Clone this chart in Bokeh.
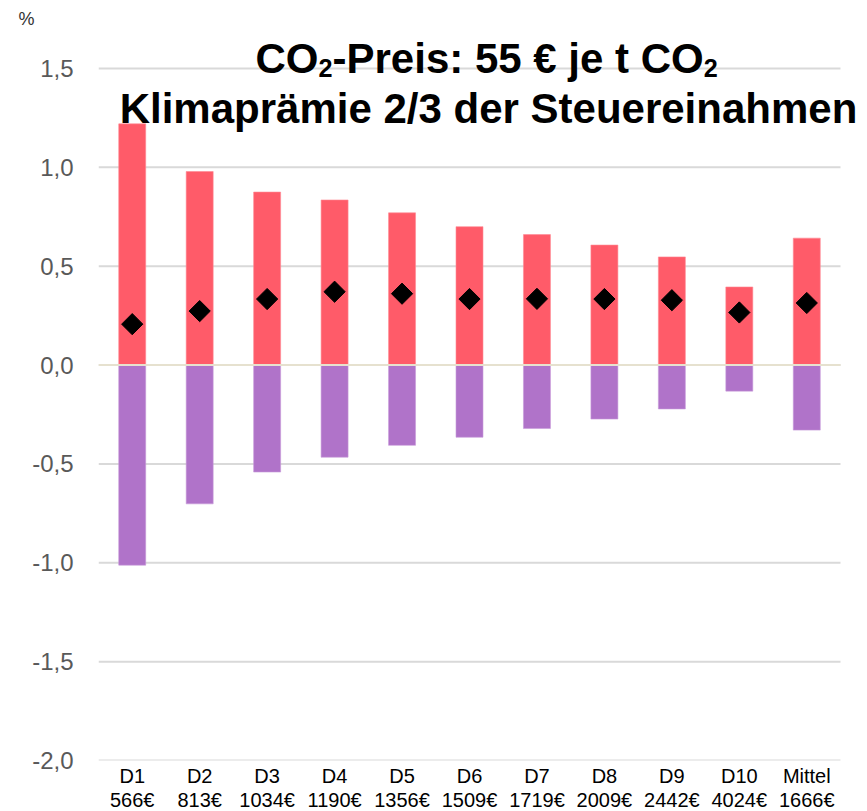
import numpy as np
from bokeh.plotting import figure
from bokeh.models import (ColumnDataSource, FixedTicker, CustomJSTickFormatter,
                          Label, Range1d, Title)
from bokeh.embed import file_html
from bokeh.resources import INLINE

# ---- data ----
deciles = ["D1", "D2", "D3", "D4", "D5", "D6", "D7", "D8", "D9", "D10", "Mittel"]
incomes = ["566€", "813€", "1034€", "1190€", "1356€", "1509€", "1719€",
           "2009€", "2442€", "4024€", "1666€"]
praemie = [1.22, 0.979, 0.875, 0.835, 0.770, 0.700, 0.660, 0.607, 0.547, 0.395, 0.642]
belastung = [-1.012, -0.702, -0.541, -0.466, -0.406, -0.365, -0.321, -0.273, -0.222, -0.132, -0.329]
netto = [0.207, 0.273, 0.334, 0.371, 0.361, 0.334, 0.335, 0.334, 0.328, 0.266, 0.314]
y_ticks = [-2.0, -1.5, -1.0, -0.5, 0.0, 0.5, 1.0, 1.5]

n = len(deciles)
xs = list(range(n))
tick_labels = {i: f"{d}\n{inc}" for i, (d, inc) in enumerate(zip(deciles, incomes))}
src = ColumnDataSource(dict(x=xs, pos=praemie, neg=belastung, net=netto))

# ---- layout ----
LEFT = 98            # frame left edge (px)
GRID_TOP = 68        # pixel row of the top tick (1.5)
FRAME_TOP = 26       # frame extends above the top tick to host the title
FRAME_BOTTOM = 760
CAT_W = 742 / n      # px per category
FRAME_W = 765
Y0, Y1 = -2.0, 1.5
px_per_y = (FRAME_BOTTOM - GRID_TOP) / (Y1 - Y0)
y_end = Y1 + (GRID_TOP - FRAME_TOP) / px_per_y
x_start = -0.5
x_end = x_start + FRAME_W / CAT_W

p = figure(x_range=Range1d(x_start, x_end), y_range=Range1d(Y0, y_end),
           frame_width=FRAME_W, frame_height=FRAME_BOTTOM - FRAME_TOP,
           min_border_left=LEFT, min_border_right=0, min_border_top=FRAME_TOP,
           min_border_bottom=0,
           output_backend="svg", toolbar_location=None)
p.outline_line_color = None
p.background_fill_color = "white"
p.border_fill_color = "white"
p.xgrid.grid_line_color = None
p.ygrid.grid_line_color = None

# horizontal grid lines limited to the category span
p.segment(x0=x_start, x1=n - 0.5, y0=y_ticks, y1=y_ticks,
          line_color="#D9D9D9", line_width=2)

p.vbar(x="x", top="pos", bottom=0, width=0.4, source=src,
       fill_color="#FF5B69", line_color="#FF8A94", line_width=0.6)
p.vbar(x="x", top=0, bottom="neg", width=0.4, source=src,
       fill_color="#B073C9", line_color="#C79BDA", line_width=0.6)
# zero line over the bars
p.segment(x0=x_start, x1=n - 0.5, y0=0, y1=0, line_color="#E6E1CF", line_width=2)
p.scatter(x="x", y="net", source=src, marker="square", angle=np.pi / 4,
          size=15, fill_color="black", line_color="black")

# y axis
p.yaxis.ticker = FixedTicker(ticks=y_ticks)
p.yaxis.formatter = CustomJSTickFormatter(code="return tick.toFixed(1).replace('.', ',');")
p.yaxis.axis_line_color = None
p.yaxis.major_tick_line_color = None
p.yaxis.minor_tick_line_color = None
p.yaxis.major_tick_out = 0
p.yaxis.major_label_standoff = 25
p.yaxis.major_label_text_font = "Liberation Sans"
p.yaxis.major_label_text_font_size = "24px"
p.yaxis.major_label_text_color = "#595959"

# x axis
p.xaxis.ticker = FixedTicker(ticks=xs)
p.xaxis.major_label_overrides = tick_labels
p.xaxis.axis_line_color = None
p.xaxis.major_tick_line_color = None
p.xaxis.minor_tick_line_color = None
p.xaxis.major_tick_out = 0
p.xaxis.major_label_standoff = 4
p.xaxis.major_label_text_font = "Liberation Sans"
p.xaxis.major_label_text_font_size = "20px"
p.xaxis.major_label_text_color = "black"
p.xaxis.major_label_text_line_height = 1.1

# unit label in the top border
p.add_layout(Title(text="%", align="left", offset=-80, standoff=-5,
                   text_font="Liberation Sans", text_font_style="normal",
                   text_font_size="18px", text_color="#333333"), "above")

# ---- title (inside the extended frame), canvas pixel units ----
F = 42
SUB = 0.6 * F
x0 = 255
base1 = 58
base2 = 108
font = "Liberation Sans"
pieces = []
x = x0
pieces.append(("CO", x, F, base1)); x += 1.5 * F
pieces.append(("2", x, SUB, base1 + 0.235 * F)); x += 0.556 * SUB
pieces.append(("-Preis: 55 € je t CO", x, F, base1)); x += 8.837 * F
pieces.append(("2", x, SUB, base1 + 0.235 * F))
for txt, px, fs, py in pieces:
    p.add_layout(Label(x=px, y=py, x_units="canvas", y_units="canvas", text=txt,
                       text_font=font, text_font_style="bold",
                       text_font_size=f"{fs:.1f}px", text_align="left",
                       text_baseline="alphabetic", text_color="black"))
p.add_layout(Label(x=488, y=base2, x_units="canvas", y_units="canvas",
                   text="Klimaprämie 2/3 der Steuereinahmen",
                   text_font=font, text_font_style="bold", text_font_size=f"{F}px",
                   text_align="center", text_baseline="alphabetic", text_color="black"))

open("out.html", "w").write(file_html(p, INLINE))
